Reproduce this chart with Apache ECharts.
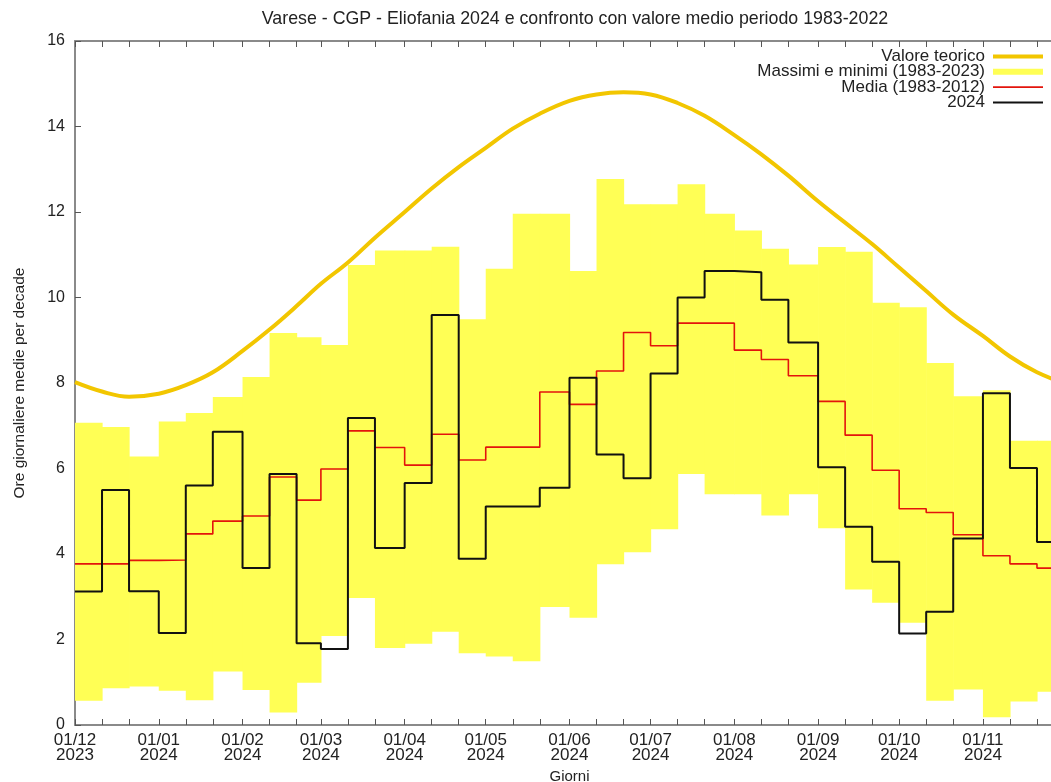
<!DOCTYPE html>
<html>
<head>
<meta charset="utf-8">
<script src="https://cdn.jsdelivr.net/npm/echarts@6/dist/echarts.min.js"></script>
<style>
  html, body { margin: 0; padding: 0; background: #fff; }
  #chart { width: 1051px; height: 782px; }
</style>
</head>
<body>
<div id="chart"></div>
<script>
// start of each decade (1-10, 11-20, 21-end of month)
const decadeStarts = [
  "2023-12-01", "2023-12-11", "2023-12-21",
  "2024-01-01", "2024-01-11", "2024-01-21",
  "2024-02-01", "2024-02-11", "2024-02-21",
  "2024-03-01", "2024-03-11", "2024-03-21",
  "2024-04-01", "2024-04-11", "2024-04-21",
  "2024-05-01", "2024-05-11", "2024-05-21",
  "2024-06-01", "2024-06-11", "2024-06-21",
  "2024-07-01", "2024-07-11", "2024-07-21",
  "2024-08-01", "2024-08-11", "2024-08-21",
  "2024-09-01", "2024-09-11", "2024-09-21",
  "2024-10-01", "2024-10-11", "2024-10-21",
  "2024-11-01", "2024-11-11", "2024-11-21"
];
const periodEnd = "2024-12-01";

const monthTicks = [
  "2023-12-01", "2024-01-01", "2024-02-01", "2024-03-01", "2024-04-01", "2024-05-01",
  "2024-06-01", "2024-07-01", "2024-08-01", "2024-09-01", "2024-10-01", "2024-11-01"
];

// theoretical max sunshine, read at each decade start plus the period end
const valoreTeorico = [
  8.02, 7.80, 7.68, 7.75, 7.95, 8.25, 8.75, 9.25, 9.80, 10.32, 10.82, 11.40,
  12.00, 12.55, 13.05, 13.50, 13.95, 14.30, 14.60, 14.75, 14.80, 14.75, 14.55, 14.25,
  13.80, 13.35, 12.85, 12.25, 11.75, 11.25, 10.70, 10.15, 9.60, 9.10, 8.62, 8.25, 8.00
];

const massimi = [
  7.07, 6.97, 6.28, 7.10, 7.30, 7.67, 8.14, 9.17, 9.07, 8.89, 10.76, 11.10,
  11.10, 11.19, 9.49, 10.67, 11.96, 11.96, 10.62, 12.77, 12.18, 12.18, 12.65, 11.96,
  11.57, 11.14, 10.77, 11.18, 11.07, 9.88, 9.77, 8.47, 7.69, 7.83, 6.65, 6.65
];

const minimi = [
  0.57, 0.86, 0.90, 0.80, 0.58, 1.25, 0.82, 0.29, 0.99, 2.08, 2.97, 1.80,
  1.90, 2.18, 1.68, 1.60, 1.49, 2.76, 2.51, 3.76, 4.04, 4.58, 5.87, 5.40,
  5.40, 4.90, 5.40, 4.60, 3.17, 2.86, 2.39, 0.57, 0.83, 0.18, 0.55, 0.78
];

const media = [
  3.77, 3.77, 3.85, 3.86, 4.47, 4.77, 4.89, 5.80, 5.26, 5.99, 6.88, 6.49,
  6.08, 6.80, 6.20, 6.50, 6.50, 7.79, 7.50, 8.28, 9.18, 8.87, 9.40, 9.40,
  8.77, 8.55, 8.17, 7.57, 6.78, 5.96, 5.06, 4.97, 4.45, 3.96, 3.77, 3.67
];

const anno2024 = [
  3.12, 5.50, 3.13, 2.15, 5.60, 6.86, 3.67, 5.87, 1.91, 1.78, 7.18, 4.14,
  5.66, 9.59, 3.89, 5.11, 5.11, 5.55, 8.12, 6.33, 5.77, 8.22, 10.00, 10.62,
  10.59, 9.95, 8.95, 6.03, 4.64, 3.82, 2.14, 2.65, 4.36, 7.76, 6.01, 4.28
];

// x is counted in days from the first decade start
const DAY = 86400000;
function toDate(s) {
  const [y, m, d] = s.split("-").map(Number);
  return Date.UTC(y, m - 1, d);
}
const t0 = toDate(decadeStarts[0]);
function toDay(s) { return Math.round((toDate(s) - t0) / DAY); }
function pad(n) { return n < 10 ? "0" + n : "" + n; }

const xs = decadeStarts.concat([periodEnd]).map(toDay);

// step series: repeat last value at the period end so the last decade is drawn
function stepData(values) {
  return xs.map((x, i) => [x, values[Math.min(i, values.length - 1)]]);
}

// band rows: [from day, to day, min, max]
const bandData = minimi.map((lo, i) => [xs[i], xs[i + 1], lo, massimi[i]]);

const fontFam = "'Liberation Sans', Arial, sans-serif";
const axisGray = "#8a8a8a";
const bandYellow = "#ffff55";

const tickCommon = {
  inside: true,
  length: 6,
  lineStyle: { color: "#555", width: 1 },
  customValues: decadeStarts.map(toDay)
};

const chart = echarts.init(document.getElementById("chart"));

chart.setOption({
  animation: false,
  backgroundColor: "#fff",
  textStyle: { fontFamily: fontFam },
  title: {
    text: "Varese - CGP - Eliofania 2024 e confronto con valore medio periodo 1983-2022",
    left: 570,
    top: 5,
    textAlign: "center",
    textStyle: { fontFamily: fontFam, fontSize: 17.8, fontWeight: "normal", color: "#222" }
  },
  // plot runs a little past the right edge of the picture, as in the original
  grid: { left: 75, top: 41, right: -13, bottom: 57, outerBoundsMode: "none" },
  legend: {
    orient: "vertical",
    right: 3,
    top: 43,
    align: "right",
    itemWidth: 50,
    itemHeight: 14,
    itemGap: -1.7,
    textStyle: { fontFamily: fontFam, fontSize: 17, color: "#222", padding: [0, 3, 0, 0] },
    data: [
      { name: "Valore teorico", icon: "path://M0,0H50V4H0Z" },
      { name: "Massimi e minimi (1983-2023)", icon: "path://M0,0H50V6H0Z" },
      { name: "Media (1983-2012)", icon: "path://M0,0H50V1.6H0Z" },
      { name: "2024", icon: "path://M0,0H50V2H0Z" }
    ]
  },
  xAxis: [
    {
      type: "value",
      min: 0,
      max: toDay(periodEnd),
      name: "Giorni",
      nameLocation: "middle",
      nameGap: 44,
      nameTextStyle: { fontFamily: fontFam, fontSize: 15, color: "#222" },
      axisLine: { lineStyle: { color: axisGray, width: 2 } },
      axisTick: tickCommon,
      axisLabel: {
        customValues: monthTicks.map(toDay),
        fontFamily: fontFam,
        fontSize: 17,
        lineHeight: 15,
        color: "#222",
        margin: 8,
        formatter: function (v) {
          const d = new Date(t0 + v * DAY);
          return pad(d.getUTCDate()) + "/" + pad(d.getUTCMonth() + 1) + "\n" + d.getUTCFullYear();
        }
      },
      splitLine: { show: false }
    },
    {
      type: "value",
      position: "top",
      min: 0,
      max: toDay(periodEnd),
      axisLine: { lineStyle: { color: axisGray, width: 2 } },
      axisTick: tickCommon,
      axisLabel: { show: false },
      splitLine: { show: false }
    }
  ],
  yAxis: {
    type: "value",
    min: 0,
    max: 16,
    interval: 2,
    name: "Ore giornaliere medie per decade",
    nameLocation: "middle",
    nameGap: 47,
    nameTextStyle: { fontFamily: fontFam, fontSize: 15.5, color: "#222" },
    axisLine: { show: true, lineStyle: { color: axisGray, width: 2 } },
    axisTick: { show: true, inside: true, length: 6, lineStyle: { color: "#555" } },
    axisLabel: { fontFamily: fontFam, fontSize: 16, color: "#222", margin: 10 },
    splitLine: { show: false }
  },
  series: [
    {
      name: "Massimi e minimi (1983-2023)",
      type: "custom",
      itemStyle: { color: bandYellow },
      encode: { x: [0, 1], y: [2, 3] },
      renderItem: function (params, api) {
        const topLeft = api.coord([api.value(0), api.value(3)]);
        const bottomRight = api.coord([api.value(1), api.value(2)]);
        return {
          type: "rect",
          shape: {
            x: topLeft[0],
            y: topLeft[1],
            width: bottomRight[0] - topLeft[0] + 0.6,
            height: bottomRight[1] - topLeft[1]
          },
          style: { fill: bandYellow }
        };
      },
      data: bandData,
      z: 1
    },
    {
      name: "Valore teorico",
      type: "line",
      smooth: 0.4,
      symbol: "none",
      color: "#f2c600",
      lineStyle: { width: 4, color: "#f2c600" },
      data: xs.map((x, i) => [x, valoreTeorico[i]]),
      z: 3
    },
    {
      name: "Media (1983-2012)",
      type: "line",
      step: "end",
      symbol: "none",
      color: "#e3140c",
      lineStyle: { width: 1.6, color: "#e3140c" },
      data: stepData(media),
      z: 4
    },
    {
      name: "2024",
      type: "line",
      step: "end",
      symbol: "none",
      color: "#111",
      lineStyle: { width: 2, color: "#111" },
      data: stepData(anno2024),
      z: 5
    }
  ]
});
</script>
</body>
</html>
